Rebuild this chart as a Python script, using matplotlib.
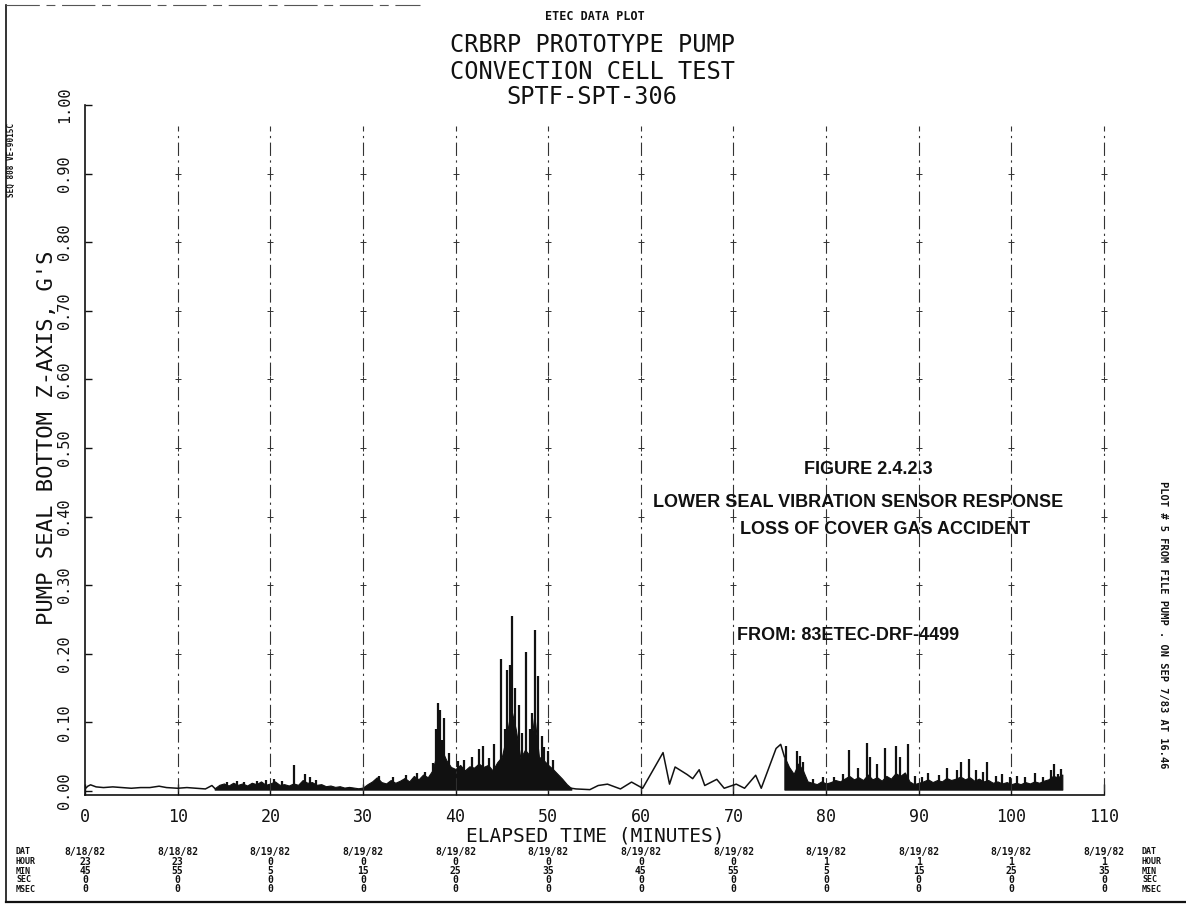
import numpy as np
import matplotlib
matplotlib.use('Agg')
import matplotlib.pyplot as plt

# quiet stretches of the trace (minutes, g's)
t_quiet1 = [0.0, 0.3, 0.6, 1.2, 2.0, 3.0, 4.0, 5.0, 6.0, 7.0, 8.0, 8.8, 10.0, 11.0, 12.0, 13.0, 13.7, 14.0]
g_quiet1 = [0.003, 0.007, 0.009, 0.006, 0.005, 0.006, 0.005, 0.004, 0.005, 0.005, 0.007, 0.005, 0.004, 0.005, 0.004, 0.003, 0.008, 0.004]

t_quiet2 = [52.5, 53.0, 54.5, 55.4, 56.4, 57.8, 59.0, 60.2, 62.4, 63.1, 63.7, 65.0, 65.6, 66.3, 66.9,
            68.2, 69.0, 70.3, 71.2, 72.4, 73.0, 74.6, 75.1, 75.5]
g_quiet2 = [0.004, 0.003, 0.002, 0.008, 0.010, 0.003, 0.013, 0.004, 0.056, 0.010, 0.035, 0.024, 0.018, 0.031, 0.008,
            0.017, 0.004, 0.010, 0.004, 0.023, 0.004, 0.062, 0.068, 0.050]

# noisy stretches: upper edge of the dense band
t_band1 = np.arange(14.0, 52.51, 0.5)
g_band1 = [0.004, 0.009, 0.011, 0.008, 0.012, 0.009, 0.011, 0.008, 0.012, 0.010,
           0.014, 0.009, 0.011, 0.014, 0.009, 0.010, 0.008, 0.011, 0.009, 0.016,
           0.012, 0.013, 0.009, 0.010, 0.007, 0.008, 0.006, 0.007, 0.005, 0.006,
           0.005, 0.004, 0.005, 0.010, 0.014, 0.020, 0.013, 0.011, 0.016, 0.012,
           0.015, 0.019, 0.014, 0.022, 0.017, 0.024, 0.020, 0.030, 0.055, 0.060,
           0.045, 0.035, 0.032, 0.038, 0.030, 0.036, 0.034, 0.040, 0.035, 0.038,
           0.030, 0.042, 0.050, 0.080, 0.120, 0.090, 0.048, 0.060, 0.052, 0.110,
           0.050, 0.045, 0.038, 0.032, 0.025, 0.018, 0.010, 0.004]

t_band2 = np.arange(75.5, 105.51, 0.5)
g_band2 = [0.050, 0.035, 0.025, 0.040, 0.030, 0.014, 0.012, 0.010, 0.014, 0.011,
           0.013, 0.016, 0.014, 0.018, 0.022, 0.017, 0.020, 0.016, 0.024, 0.017,
           0.020, 0.015, 0.022, 0.018, 0.026, 0.022, 0.027, 0.014, 0.010, 0.012,
           0.014, 0.017, 0.013, 0.016, 0.014, 0.019, 0.016, 0.018, 0.021, 0.017,
           0.020, 0.015, 0.018, 0.014, 0.016, 0.012, 0.014, 0.011, 0.013, 0.010,
           0.012, 0.010, 0.013, 0.011, 0.014, 0.012, 0.015, 0.017, 0.022, 0.020, 0.024]
band_floor = 0.002

# individual spikes above the band
t_spike = [15.3, 16.4, 17.2, 18.6, 19.5, 20.4, 21.3, 22.6, 23.8, 24.3, 24.9, 31.7, 33.2, 34.6, 35.8, 36.7,
           37.6, 37.9, 38.1, 38.3, 38.5, 38.8, 39.3,
           40.3, 40.9, 41.8, 42.5, 43.0, 43.6, 44.2,
           44.9, 45.3, 45.6, 45.9, 46.1, 46.4, 46.8, 47.2, 47.6, 48.0, 48.3, 48.6, 48.9, 49.3, 49.6, 50.0, 50.5,
           75.7, 76.1, 76.9, 77.2, 77.5, 78.6, 79.7, 80.8, 81.8, 82.5, 83.4, 84.4, 84.7, 85.5, 86.4, 87.6, 88.0, 88.8,
           89.6, 90.4, 91.0, 92.2, 93.0, 94.1, 94.6, 95.4, 96.2, 96.9, 97.4, 98.3, 99.0, 99.8, 100.6, 101.5,
           102.6, 103.4, 104.3, 104.6, 105.0, 105.4]
g_spike = [0.013, 0.014, 0.013, 0.015, 0.016, 0.017, 0.014, 0.038, 0.025, 0.021, 0.016, 0.022, 0.020, 0.024, 0.026, 0.028,
           0.041, 0.090, 0.128, 0.118, 0.075, 0.107, 0.055,
           0.044, 0.045, 0.050, 0.061, 0.066, 0.048, 0.068,
           0.192, 0.090, 0.177, 0.184, 0.255, 0.150, 0.126, 0.085, 0.202, 0.090, 0.113, 0.234, 0.167, 0.080, 0.064, 0.058, 0.045,
           0.065, 0.030, 0.058, 0.051, 0.042, 0.018, 0.020, 0.020, 0.025, 0.060, 0.033, 0.070, 0.050, 0.040, 0.062, 0.065, 0.050, 0.068,
           0.022, 0.020, 0.026, 0.024, 0.033, 0.030, 0.042, 0.046, 0.030, 0.027, 0.043, 0.022, 0.025, 0.020, 0.022, 0.021,
           0.026, 0.020, 0.030, 0.040, 0.025, 0.032]

x_ticks = list(range(0, 111, 10))
y_ticks = [round(0.1 * i, 1) for i in range(11)]

# time stamp block under each 10 minute mark
stamp_date = ['8/18/82', '8/18/82'] + ['8/19/82'] * 10
stamp_hour = ['23', '23', '0', '0', '0', '0', '0', '0', '1', '1', '1', '1']
stamp_min = ['45', '55', '5', '15', '25', '35', '45', '55', '5', '15', '25', '35']
stamp_sec = ['0'] * 12
stamp_msec = ['0'] * 12
stamp_rows = ['DAT', 'HOUR', 'MIN', 'SEC', 'MSEC']

W, H = 1186, 906
mono = 'DejaVu Sans Mono'
ink = '#111111'

fig = plt.figure(figsize=(W / 100, H / 100), dpi=100)
fig.patch.set_facecolor('white')

y0, y1 = 791, 105   # pixel rows of 0.00 and 1.00
per = (y0 - y1) / 1.0
ax_bot = 795
ax = fig.add_axes([85 / W, 1 - ax_bot / H, 1019 / W, (ax_bot - y1) / H])
ax.set_xlim(0, 110)
ax.set_ylim(-(ax_bot - y0) / per, 1.0)

for s in ['top', 'right']:
    ax.spines[s].set_visible(False)
for s in ['left', 'bottom']:
    ax.spines[s].set_linewidth(1.2)
    ax.spines[s].set_color(ink)

# dash-dot verticals with a small cross at every 0.1 g
for xv in x_ticks[1:]:
    ax.plot([xv, xv], [0, 0.97], color='#333333', lw=0.8, dashes=(12, 4, 2, 4), clip_on=False)
    ax.plot([xv] * 9, y_ticks[1:10], ls='none', marker='+', ms=4, mew=0.7, color='#333333', clip_on=False)

ax.plot(t_quiet1, g_quiet1, color=ink, lw=1.1)
ax.plot(t_quiet2, g_quiet2, color=ink, lw=1.1)
ax.fill_between(t_band1, band_floor, g_band1, color=ink, lw=0.8)
ax.fill_between(t_band2, band_floor, g_band2, color=ink, lw=0.8)
ax.vlines(t_spike, band_floor, g_spike, color=ink, lw=1.6)

ax.set_xticks(x_ticks)
ax.set_xticklabels([str(v) for v in x_ticks], family=mono, fontsize=12)
ax.set_yticks(y_ticks)
ax.set_yticklabels(['%.2f' % v for v in y_ticks], family=mono, fontsize=11,
                   rotation=90, va='center')
ax.tick_params(axis='x', direction='in', length=8, width=1.0, pad=9, colors=ink)
ax.tick_params(axis='y', direction='in', length=5, width=1.0, pad=9, colors=ink)

fig.text(595 / W, 1 - 836 / H, 'ELAPSED TIME (MINUTES)', family=mono, fontsize=14,
         ha='center', va='center', color=ink)
fig.text(47 / W, 1 - 438 / H, "PUMP SEAL BOTTOM Z-AXIS, G'S", family=mono, fontsize=16,
         rotation=90, ha='center', va='center', color=ink)

# header block
fig.text(595 / W, 1 - 17 / H, 'ETEC DATA PLOT', family=mono, fontsize=8.5,
         fontweight='bold', ha='center', va='center', color=ink)
for txt, yy in [('CRBRP PROTOTYPE PUMP', 45), ('CONVECTION CELL TEST', 72), ('SPTF-SPT-306', 97)]:
    fig.text(592 / W, 1 - yy / H, txt, family=mono, fontsize=17, ha='center', va='center', color=ink)

fig.text(11 / W, 1 - 160 / H, 'SEQ 808 VE-9015C', family=mono, fontsize=5.5, fontweight='bold',
         rotation=90, ha='center', va='center', color=ink)
fig.text(1163 / W, 1 - 625 / H, 'PLOT # 5 FROM FILE PUMP . ON SEP 7/83 AT 16.46', family=mono,
         fontsize=7.5, fontweight='bold', rotation=-90, ha='center', va='center', color=ink)

# figure caption typed onto the plot
for txt, xx, yy in [('FIGURE 2.4.2.3', 868, 470),
                    ('LOWER SEAL VIBRATION SENSOR RESPONSE', 858, 503),
                    ('LOSS OF COVER GAS ACCIDENT', 885, 529),
                    ('FROM: 83ETEC-DRF-4499', 848, 636)]:
    fig.text(xx / W, 1 - yy / H, txt, family='Liberation Sans', fontsize=13,
             fontweight='bold', ha='center', va='center', color=ink)

# time stamps
row_y = [852, 862, 871, 880, 889]
for i, xv in enumerate(x_ticks):
    xp = (85 + xv * 1019 / 110) / W
    vals = [stamp_date[i], stamp_hour[i], stamp_min[i], stamp_sec[i], stamp_msec[i]]
    for v, yy in zip(vals, row_y):
        fig.text(xp, 1 - yy / H, v, family=mono, fontsize=7, fontweight='bold',
                 ha='center', va='center', color=ink)
for lab, yy in zip(stamp_rows, row_y):
    fig.text(16 / W, 1 - yy / H, lab, family=mono, fontsize=6, fontweight='bold',
             ha='left', va='center', color=ink)
    fig.text(1142 / W, 1 - yy / H, lab, family=mono, fontsize=6, fontweight='bold',
             ha='left', va='center', color=ink)

# page border
fig.add_artist(plt.Line2D([6 / W, 6 / W], [1 - 5 / H, 1 - 902 / H], color=ink, lw=1.2))
fig.add_artist(plt.Line2D([6 / W, 1], [1 - 902 / H, 1 - 902 / H], color=ink, lw=1.6))
fig.add_artist(plt.Line2D([6 / W, 420 / W], [1 - 5 / H, 1 - 5 / H], color='#555555', lw=0.8,
                          dashes=(30, 6, 8, 6)))

fig.savefig('out.png', dpi=100, facecolor='white')
